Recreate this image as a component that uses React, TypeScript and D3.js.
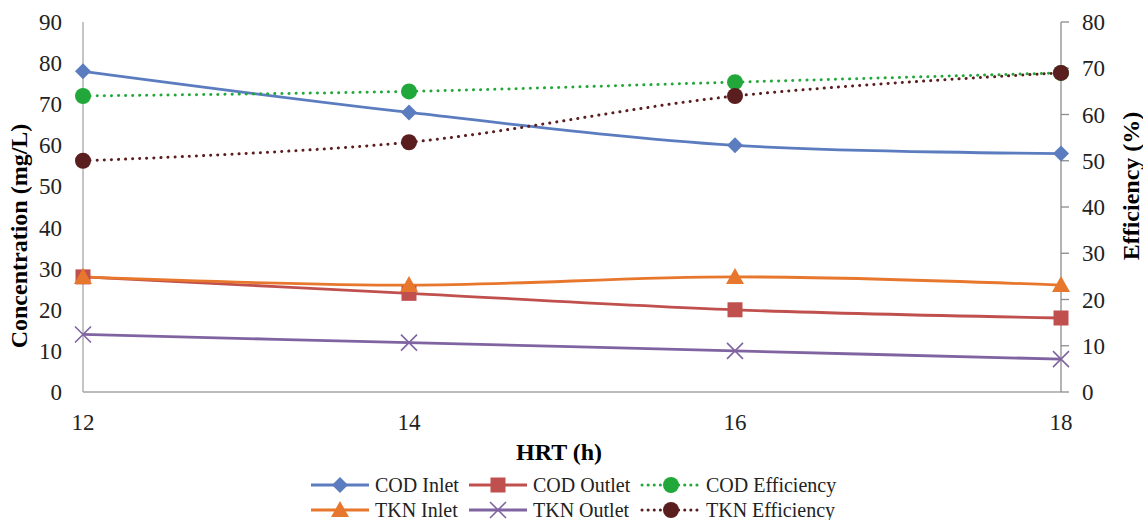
import React, { useEffect, useRef } from 'react'
import * as d3 from 'd3'

const hrt = [12, 14, 16, 18]
const codInlet = [78, 68, 60, 58]
const codOutlet = [28, 24, 20, 18]
const tknInlet = [28, 26, 28, 26]
const tknOutlet = [14, 12, 10, 8]
const codEfficiency = [64, 65, 67, 69]
const tknEfficiency = [50, 54, 64, 69]

const leftTicks = [0, 10, 20, 30, 40, 50, 60, 70, 80, 90]
const rightTicks = [0, 10, 20, 30, 40, 50, 60, 70, 80]

type Marker = 'diamond' | 'square' | 'circle' | 'triangle' | 'x'

interface Series {
    name: string
    values: number[]
    color: string
    marker: Marker
    dotted: boolean
    axis: 'left' | 'right'
}

const series: Series[] = [
    { name: 'COD Inlet', values: codInlet, color: '#5B7DC0', marker: 'diamond', dotted: false, axis: 'left' },
    { name: 'COD Outlet', values: codOutlet, color: '#C0504D', marker: 'square', dotted: false, axis: 'left' },
    { name: 'COD Efficiency', values: codEfficiency, color: '#22A83A', marker: 'circle', dotted: true, axis: 'right' },
    { name: 'TKN Inlet', values: tknInlet, color: '#E8772E', marker: 'triangle', dotted: false, axis: 'left' },
    { name: 'TKN Outlet', values: tknOutlet, color: '#8064A2', marker: 'x', dotted: false, axis: 'left' },
    { name: 'TKN Efficiency', values: tknEfficiency, color: '#5A1E1E', marker: 'circle', dotted: true, axis: 'right' },
]

const W = 1143
const H = 520
const font = '"Liberation Serif", "Times New Roman", serif'

const drawMarker = (g: d3.Selection<SVGGElement, unknown, null, undefined>, m: Marker, x: number, y: number, color: string) => {
    if (m === 'diamond') {
        g.append('path').attr('d', `M${x},${y - 8}L${x + 8},${y}L${x},${y + 8}L${x - 8},${y}Z`).attr('fill', color)
    } else if (m === 'square') {
        g.append('rect').attr('x', x - 7.5).attr('y', y - 7.5).attr('width', 15).attr('height', 15).attr('fill', color)
    } else if (m === 'circle') {
        g.append('circle').attr('cx', x).attr('cy', y).attr('r', 8).attr('fill', color)
    } else if (m === 'triangle') {
        g.append('path').attr('d', `M${x},${y - 9}L${x + 9},${y + 7}L${x - 9},${y + 7}Z`).attr('fill', color)
    } else {
        g.append('path').attr('d', `M${x - 8},${y - 8}L${x + 8},${y + 8}M${x - 8},${y + 8}L${x + 8},${y - 8}`)
            .attr('stroke', color).attr('stroke-width', 1.6).attr('fill', 'none')
    }
}

const App = () => {
    const ref = useRef<SVGSVGElement>(null)

    useEffect(() => {
        const svg = d3.select(ref.current)
        svg.selectAll('*').remove()

        const x = d3.scaleLinear().domain([12, 18]).range([83, 1061])
        const yL = d3.scaleLinear().domain([0, 90]).range([392, 22])
        const yR = d3.scaleLinear().domain([0, 80]).range([392, 22])

        // axes
        svg.append('line').attr('x1', 83).attr('x2', 1061).attr('y1', 392).attr('y2', 392).attr('stroke', '#A6A6A6').attr('stroke-width', 1.3)
        svg.append('line').attr('x1', 83).attr('x2', 83).attr('y1', 22).attr('y2', 392).attr('stroke', '#A6A6A6').attr('stroke-width', 1.3)
        svg.append('line').attr('x1', 1061).attr('x2', 1061).attr('y1', 22).attr('y2', 392).attr('stroke', '#8C8C8C').attr('stroke-width', 1.3)

        svg.append('g').selectAll('text').data(leftTicks).enter().append('text')
            .attr('x', 62).attr('y', d => yL(d)).attr('dy', '0.35em').attr('text-anchor', 'end')
            .style('font-family', font).attr('font-size', 23).attr('fill', '#222').text(d => d)

        const rg = svg.append('g')
        rg.selectAll('line').data(rightTicks).enter().append('line')
            .attr('x1', 1061).attr('x2', 1069).attr('y1', d => yR(d)).attr('y2', d => yR(d))
            .attr('stroke', '#8C8C8C').attr('stroke-width', 1.3)
        rg.selectAll('text').data(rightTicks).enter().append('text')
            .attr('x', 1082).attr('y', d => yR(d)).attr('dy', '0.35em').attr('text-anchor', 'start')
            .style('font-family', font).attr('font-size', 23).attr('fill', '#222').text(d => d)

        svg.append('g').selectAll('text').data(hrt).enter().append('text')
            .attr('x', d => x(d)).attr('y', 422).attr('dy', '0.35em').attr('text-anchor', 'middle')
            .style('font-family', font).attr('font-size', 23).attr('fill', '#222').text(d => d)

        svg.append('text').attr('x', 559).attr('y', 452).attr('dy', '0.35em').attr('text-anchor', 'middle')
            .style('font-family', font).attr('font-size', 24).attr('font-weight', 'bold').text('HRT (h)')
        svg.append('text').attr('transform', 'translate(19,236) rotate(-90)').attr('dy', '0.35em').attr('text-anchor', 'middle')
            .style('font-family', font).attr('font-size', 24).attr('font-weight', 'bold').text('Concentration (mg/L)')
        svg.append('text').attr('transform', 'translate(1131,186) rotate(-90)').attr('dy', '0.35em').attr('text-anchor', 'middle')
            .style('font-family', font).attr('font-size', 24).attr('font-weight', 'bold').text('Efficiency (%)')

        // series
        const plot = svg.append('g')
        series.forEach(s => {
            const y = s.axis === 'left' ? yL : yR
            const line = d3.line<number>().x((_, i) => x(hrt[i])).y(d => y(d)).curve(d3.curveCatmullRom.alpha(0.5))
            plot.append('path').attr('d', line(s.values)).attr('fill', 'none').attr('stroke', s.color)
                .attr('stroke-width', s.dotted ? 3 : 2.8)
                .attr('stroke-dasharray', s.dotted ? '0.1 7' : null)
                .attr('stroke-linecap', s.dotted ? 'round' : 'butt')
        })
        series.forEach(s => {
            const y = s.axis === 'left' ? yL : yR
            const mg = plot.append('g')
            s.values.forEach((v, i) => drawMarker(mg, s.marker, x(hrt[i]), y(v), s.color))
        })

        // legend
        const cols = [311, 469, 642]
        const rows = [485, 510]
        const lg = svg.append('g')
        series.forEach((s, i) => {
            const lx = cols[i % 3]
            const ly = rows[Math.floor(i / 3)]
            lg.append('line').attr('x1', lx).attr('x2', lx + 58).attr('y1', ly).attr('y2', ly)
                .attr('stroke', s.color).attr('stroke-width', s.dotted ? 3 : 2.8)
                .attr('stroke-dasharray', s.dotted ? '0.1 6' : null)
                .attr('stroke-linecap', s.dotted ? 'round' : 'butt')
            drawMarker(lg, s.marker, lx + 29, ly, s.color)
            lg.append('text').attr('x', lx + 64).attr('y', ly).attr('dy', '0.35em')
                .style('font-family', font).attr('font-size', 20).attr('fill', '#222').text(s.name)
        })
    }, [])

    return (
        <svg ref={ref} width={W} height={H} style={{ position: 'absolute', left: 0, top: 0, background: '#fff' }} />
    )
}

export default App
